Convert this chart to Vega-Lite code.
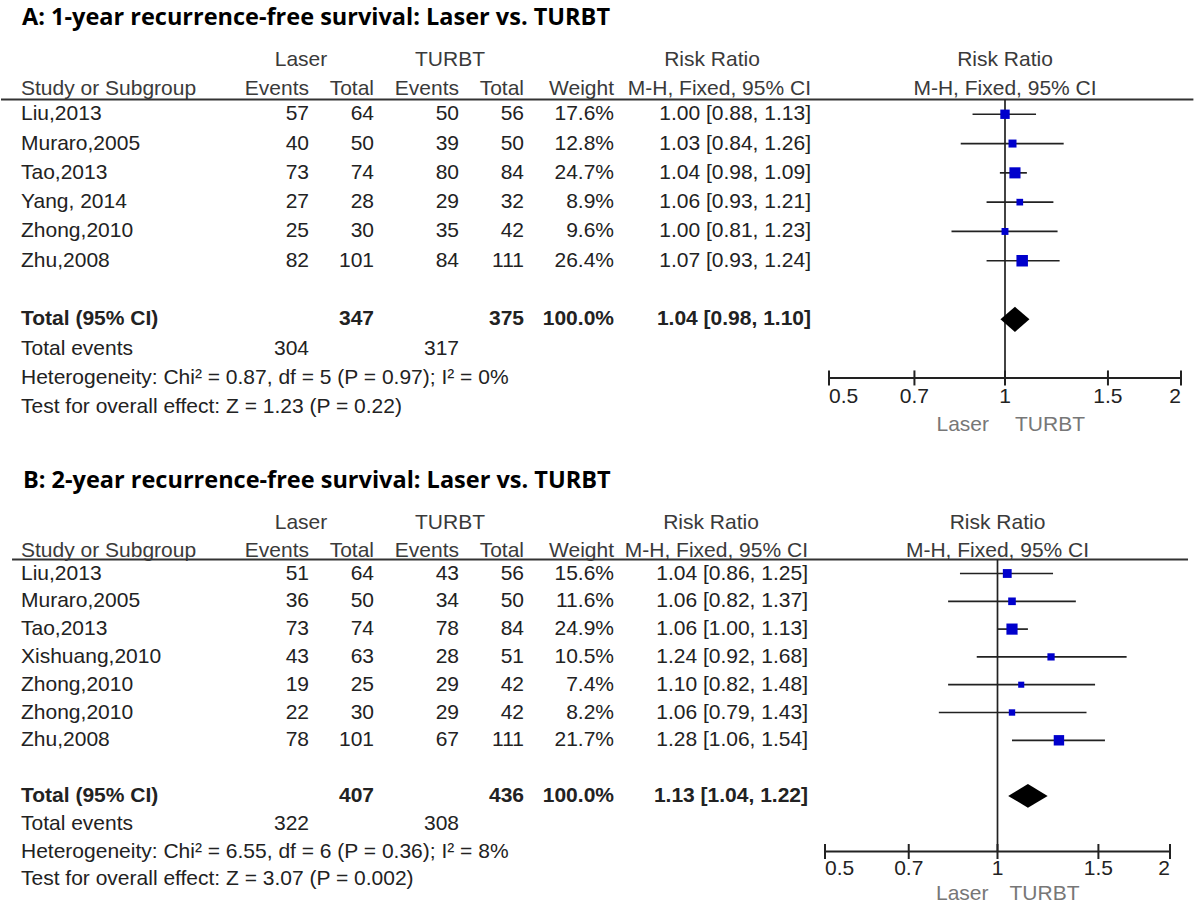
{
  "$schema": "https://vega.github.io/schema/vega-lite/v6.json",
  "padding": {"top": 5, "left": 0, "right": 0, "bottom": 0},
  "spacing": 32,
  "config": {
    "view": {"stroke": null},
    "text": {"font": "Liberation Sans", "fontSize": 21, "color": "#222"},
    "title": {"anchor": "start", "font": "Open Sans", "fontSize": 23.5, "fontWeight": "bold", "color": "#000", "dx": 22, "offset": 12}
  },
  "datasets": {
    "one": [{}],
    "A": [
      {"line": "s1", "study": "Liu,2013", "le": 57, "lt": 64, "te": 50, "tt": 56, "w": 0.176, "ci": "1.00 [0.88, 1.13]", "rr": 1.00, "lo": 0.88, "hi": 1.13},
      {"line": "s2", "study": "Muraro,2005", "le": 40, "lt": 50, "te": 39, "tt": 50, "w": 0.128, "ci": "1.03 [0.84, 1.26]", "rr": 1.03, "lo": 0.84, "hi": 1.26},
      {"line": "s3", "study": "Tao,2013", "le": 73, "lt": 74, "te": 80, "tt": 84, "w": 0.247, "ci": "1.04 [0.98, 1.09]", "rr": 1.04, "lo": 0.98, "hi": 1.09},
      {"line": "s4", "study": "Yang, 2014", "le": 27, "lt": 28, "te": 29, "tt": 32, "w": 0.089, "ci": "1.06 [0.93, 1.21]", "rr": 1.06, "lo": 0.93, "hi": 1.21},
      {"line": "s5", "study": "Zhong,2010", "le": 25, "lt": 30, "te": 35, "tt": 42, "w": 0.096, "ci": "1.00 [0.81, 1.23]", "rr": 1.00, "lo": 0.81, "hi": 1.23},
      {"line": "s6", "study": "Zhu,2008", "le": 82, "lt": 101, "te": 84, "tt": 111, "w": 0.264, "ci": "1.07 [0.93, 1.24]", "rr": 1.07, "lo": 0.93, "hi": 1.24},
      {"line": "events", "study": "Total events", "le": 304, "te": 317},
      {"line": "het", "study": "Heterogeneity: Chi² = 0.87, df = 5 (P = 0.97); I² = 0%"},
      {"line": "test", "study": "Test for overall effect: Z = 1.23 (P = 0.22)"}
    ],
    "At": [
      {"line": "total", "study": "Total (95% CI)", "lt": 347, "tt": 375, "w": 1, "ci": "1.04 [0.98, 1.10]", "rr": 1.04, "lo": 0.98, "hi": 1.10}
    ],
    "B": [
      {"line": "s1", "study": "Liu,2013", "le": 51, "lt": 64, "te": 43, "tt": 56, "w": 0.156, "ci": "1.04 [0.86, 1.25]", "rr": 1.04, "lo": 0.86, "hi": 1.25},
      {"line": "s2", "study": "Muraro,2005", "le": 36, "lt": 50, "te": 34, "tt": 50, "w": 0.116, "ci": "1.06 [0.82, 1.37]", "rr": 1.06, "lo": 0.82, "hi": 1.37},
      {"line": "s3", "study": "Tao,2013", "le": 73, "lt": 74, "te": 78, "tt": 84, "w": 0.249, "ci": "1.06 [1.00, 1.13]", "rr": 1.06, "lo": 1.00, "hi": 1.13},
      {"line": "s4", "study": "Xishuang,2010", "le": 43, "lt": 63, "te": 28, "tt": 51, "w": 0.105, "ci": "1.24 [0.92, 1.68]", "rr": 1.24, "lo": 0.92, "hi": 1.68},
      {"line": "s5", "study": "Zhong,2010", "le": 19, "lt": 25, "te": 29, "tt": 42, "w": 0.074, "ci": "1.10 [0.82, 1.48]", "rr": 1.10, "lo": 0.82, "hi": 1.48},
      {"line": "s6", "study": "Zhong,2010", "le": 22, "lt": 30, "te": 29, "tt": 42, "w": 0.082, "ci": "1.06 [0.79, 1.43]", "rr": 1.06, "lo": 0.79, "hi": 1.43},
      {"line": "s7", "study": "Zhu,2008", "le": 78, "lt": 101, "te": 67, "tt": 111, "w": 0.217, "ci": "1.28 [1.06, 1.54]", "rr": 1.28, "lo": 1.06, "hi": 1.54},
      {"line": "events", "study": "Total events", "le": 322, "te": 308},
      {"line": "het", "study": "Heterogeneity: Chi² = 6.55, df = 6 (P = 0.36); I² = 8%"},
      {"line": "test", "study": "Test for overall effect: Z = 3.07 (P = 0.002)"}
    ],
    "Bt": [
      {"line": "total", "study": "Total (95% CI)", "lt": 407, "tt": 436, "w": 1, "ci": "1.13 [1.04, 1.22]", "rr": 1.13, "lo": 1.04, "hi": 1.22}
    ],
    "ticks": [{"t": 0.5}, {"t": 0.7}, {"t": 1}, {"t": 1.5}, {"t": 2}]
  },
  "vconcat": [
    {
      "title": {"text": "A: 1-year recurrence-free survival: Laser vs. TURBT"},
      "spacing": 0,
      "bounds": "flush",
      "hconcat": [
        {"width": 240, "height": {"step": 29.3}, "layer": [
          {"data": {"name": "one"}, "mark": {"type": "text", "text": "Study or Subgroup", "align": "left", "dx": 20, "dy": 4, "color": "#3a3a3a"},
           "encoding": {"x": {"datum": 0, "type": "quantitative", "scale": {"domain": [0, 1]}, "axis": null},
                        "y": {"datum": "h2", "type": "nominal", "scale": {"type": "band", "domain": ["h1","h2","s1","s2","s3","s4","s5","s6","gap","total","events","het","test"], "paddingInner": 0, "paddingOuter": 0}, "axis": null}}},
          {"data": {"name": "A"}, "mark": {"type": "text", "align": "left", "dx": 20},
           "encoding": {"x": {"datum": 0, "type": "quantitative", "scale": {"domain": [0, 1]}, "axis": null},
                        "y": {"field": "line", "type": "nominal", "scale": {"type": "band", "domain": ["h1","h2","s1","s2","s3","s4","s5","s6","gap","total","events","het","test"], "paddingInner": 0, "paddingOuter": 0}, "axis": null},
                        "text": {"field": "study", "type": "nominal"}}},
          {"data": {"name": "At"}, "mark": {"type": "text", "align": "left", "dx": 20, "fontWeight": "bold"},
           "encoding": {"x": {"datum": 0, "type": "quantitative", "scale": {"domain": [0, 1]}, "axis": null},
                        "y": {"field": "line", "type": "nominal", "scale": {"type": "band", "domain": ["h1","h2","s1","s2","s3","s4","s5","s6","gap","total","events","het","test"], "paddingInner": 0, "paddingOuter": 0}, "axis": null},
                        "text": {"field": "study", "type": "nominal"}}},
          {"data": {"name": "one"}, "mark": {"type": "rule", "color": "#333", "strokeWidth": 2},
           "encoding": {"x": {"datum": 0, "type": "quantitative", "scale": {"domain": [0, 1]}, "axis": null}, "x2": {"datum": 1},
                        "y": {"datum": "s1", "type": "nominal", "bandPosition": 0, "scale": {"type": "band", "domain": ["h1","h2","s1","s2","s3","s4","s5","s6","gap","total","events","het","test"], "paddingInner": 0, "paddingOuter": 0}, "axis": null}}}
        ]},
        {"width": 68, "height": {"step": 29.3}, "layer": [
          {"data": {"name": "one"}, "mark": {"type": "text", "text": "Laser", "dx": -8, "dy": 4, "color": "#3a3a3a"},
           "encoding": {"x": {"datum": 1, "type": "quantitative", "scale": {"domain": [0, 1]}, "axis": null},
                        "y": {"datum": "h1", "type": "nominal", "scale": {"type": "band", "domain": ["h1","h2","s1","s2","s3","s4","s5","s6","gap","total","events","het","test"], "paddingInner": 0, "paddingOuter": 0}, "axis": null}}},
          {"data": {"name": "one"}, "mark": {"type": "text", "text": "Events", "align": "right", "dy": 4, "color": "#3a3a3a"},
           "encoding": {"x": {"datum": 1, "type": "quantitative", "scale": {"domain": [0, 1]}, "axis": null},
                        "y": {"datum": "h2", "type": "nominal", "scale": {"type": "band", "domain": ["h1","h2","s1","s2","s3","s4","s5","s6","gap","total","events","het","test"], "paddingInner": 0, "paddingOuter": 0}, "axis": null}}},
          {"data": {"name": "A"}, "transform": [{"filter": "isValid(datum.le)"}], "mark": {"type": "text", "align": "right"},
           "encoding": {"x": {"datum": 1, "type": "quantitative", "scale": {"domain": [0, 1]}, "axis": null},
                        "y": {"field": "line", "type": "nominal", "scale": {"type": "band", "domain": ["h1","h2","s1","s2","s3","s4","s5","s6","gap","total","events","het","test"], "paddingInner": 0, "paddingOuter": 0}, "axis": null},
                        "text": {"field": "le", "type": "quantitative"}}},
          {"data": {"name": "one"}, "mark": {"type": "rule", "color": "#333", "strokeWidth": 2},
           "encoding": {"x": {"datum": 0, "type": "quantitative", "scale": {"domain": [0, 1]}, "axis": null}, "x2": {"datum": 1},
                        "y": {"datum": "s1", "type": "nominal", "bandPosition": 0, "scale": {"type": "band", "domain": ["h1","h2","s1","s2","s3","s4","s5","s6","gap","total","events","het","test"], "paddingInner": 0, "paddingOuter": 0}, "axis": null}}}
        ]},
        {"width": 65, "height": {"step": 29.3}, "layer": [
          {"data": {"name": "one"}, "mark": {"type": "text", "text": "Total", "align": "right", "dy": 4, "color": "#3a3a3a"},
           "encoding": {"x": {"datum": 1, "type": "quantitative", "scale": {"domain": [0, 1]}, "axis": null},
                        "y": {"datum": "h2", "type": "nominal", "scale": {"type": "band", "domain": ["h1","h2","s1","s2","s3","s4","s5","s6","gap","total","events","het","test"], "paddingInner": 0, "paddingOuter": 0}, "axis": null}}},
          {"data": {"name": "A"}, "transform": [{"filter": "isValid(datum.lt)"}], "mark": {"type": "text", "align": "right"},
           "encoding": {"x": {"datum": 1, "type": "quantitative", "scale": {"domain": [0, 1]}, "axis": null},
                        "y": {"field": "line", "type": "nominal", "scale": {"type": "band", "domain": ["h1","h2","s1","s2","s3","s4","s5","s6","gap","total","events","het","test"], "paddingInner": 0, "paddingOuter": 0}, "axis": null},
                        "text": {"field": "lt", "type": "quantitative"}}},
          {"data": {"name": "At"}, "mark": {"type": "text", "align": "right", "fontWeight": "bold"},
           "encoding": {"x": {"datum": 1, "type": "quantitative", "scale": {"domain": [0, 1]}, "axis": null},
                        "y": {"field": "line", "type": "nominal", "scale": {"type": "band", "domain": ["h1","h2","s1","s2","s3","s4","s5","s6","gap","total","events","het","test"], "paddingInner": 0, "paddingOuter": 0}, "axis": null},
                        "text": {"field": "lt", "type": "quantitative"}}},
          {"data": {"name": "one"}, "mark": {"type": "rule", "color": "#333", "strokeWidth": 2},
           "encoding": {"x": {"datum": 0, "type": "quantitative", "scale": {"domain": [0, 1]}, "axis": null}, "x2": {"datum": 1},
                        "y": {"datum": "s1", "type": "nominal", "bandPosition": 0, "scale": {"type": "band", "domain": ["h1","h2","s1","s2","s3","s4","s5","s6","gap","total","events","het","test"], "paddingInner": 0, "paddingOuter": 0}, "axis": null}}}
        ]},
        {"width": 85, "height": {"step": 29.3}, "layer": [
          {"data": {"name": "one"}, "mark": {"type": "text", "text": "TURBT", "dx": -9, "dy": 4, "color": "#3a3a3a"},
           "encoding": {"x": {"datum": 1, "type": "quantitative", "scale": {"domain": [0, 1]}, "axis": null},
                        "y": {"datum": "h1", "type": "nominal", "scale": {"type": "band", "domain": ["h1","h2","s1","s2","s3","s4","s5","s6","gap","total","events","het","test"], "paddingInner": 0, "paddingOuter": 0}, "axis": null}}},
          {"data": {"name": "one"}, "mark": {"type": "text", "text": "Events", "align": "right", "dy": 4, "color": "#3a3a3a"},
           "encoding": {"x": {"datum": 1, "type": "quantitative", "scale": {"domain": [0, 1]}, "axis": null},
                        "y": {"datum": "h2", "type": "nominal", "scale": {"type": "band", "domain": ["h1","h2","s1","s2","s3","s4","s5","s6","gap","total","events","het","test"], "paddingInner": 0, "paddingOuter": 0}, "axis": null}}},
          {"data": {"name": "A"}, "transform": [{"filter": "isValid(datum.te)"}], "mark": {"type": "text", "align": "right"},
           "encoding": {"x": {"datum": 1, "type": "quantitative", "scale": {"domain": [0, 1]}, "axis": null},
                        "y": {"field": "line", "type": "nominal", "scale": {"type": "band", "domain": ["h1","h2","s1","s2","s3","s4","s5","s6","gap","total","events","het","test"], "paddingInner": 0, "paddingOuter": 0}, "axis": null},
                        "text": {"field": "te", "type": "quantitative"}}},
          {"data": {"name": "one"}, "mark": {"type": "rule", "color": "#333", "strokeWidth": 2},
           "encoding": {"x": {"datum": 0, "type": "quantitative", "scale": {"domain": [0, 1]}, "axis": null}, "x2": {"datum": 1},
                        "y": {"datum": "s1", "type": "nominal", "bandPosition": 0, "scale": {"type": "band", "domain": ["h1","h2","s1","s2","s3","s4","s5","s6","gap","total","events","het","test"], "paddingInner": 0, "paddingOuter": 0}, "axis": null}}}
        ]},
        {"width": 65, "height": {"step": 29.3}, "layer": [
          {"data": {"name": "one"}, "mark": {"type": "text", "text": "Total", "align": "right", "dy": 4, "color": "#3a3a3a"},
           "encoding": {"x": {"datum": 1, "type": "quantitative", "scale": {"domain": [0, 1]}, "axis": null},
                        "y": {"datum": "h2", "type": "nominal", "scale": {"type": "band", "domain": ["h1","h2","s1","s2","s3","s4","s5","s6","gap","total","events","het","test"], "paddingInner": 0, "paddingOuter": 0}, "axis": null}}},
          {"data": {"name": "A"}, "transform": [{"filter": "isValid(datum.tt)"}], "mark": {"type": "text", "align": "right"},
           "encoding": {"x": {"datum": 1, "type": "quantitative", "scale": {"domain": [0, 1]}, "axis": null},
                        "y": {"field": "line", "type": "nominal", "scale": {"type": "band", "domain": ["h1","h2","s1","s2","s3","s4","s5","s6","gap","total","events","het","test"], "paddingInner": 0, "paddingOuter": 0}, "axis": null},
                        "text": {"field": "tt", "type": "quantitative"}}},
          {"data": {"name": "At"}, "mark": {"type": "text", "align": "right", "fontWeight": "bold"},
           "encoding": {"x": {"datum": 1, "type": "quantitative", "scale": {"domain": [0, 1]}, "axis": null},
                        "y": {"field": "line", "type": "nominal", "scale": {"type": "band", "domain": ["h1","h2","s1","s2","s3","s4","s5","s6","gap","total","events","het","test"], "paddingInner": 0, "paddingOuter": 0}, "axis": null},
                        "text": {"field": "tt", "type": "quantitative"}}},
          {"data": {"name": "one"}, "mark": {"type": "rule", "color": "#333", "strokeWidth": 2},
           "encoding": {"x": {"datum": 0, "type": "quantitative", "scale": {"domain": [0, 1]}, "axis": null}, "x2": {"datum": 1},
                        "y": {"datum": "s1", "type": "nominal", "bandPosition": 0, "scale": {"type": "band", "domain": ["h1","h2","s1","s2","s3","s4","s5","s6","gap","total","events","het","test"], "paddingInner": 0, "paddingOuter": 0}, "axis": null}}}
        ]},
        {"width": 90, "height": {"step": 29.3}, "layer": [
          {"data": {"name": "one"}, "mark": {"type": "text", "text": "Weight", "align": "right", "dy": 4, "color": "#3a3a3a"},
           "encoding": {"x": {"datum": 1, "type": "quantitative", "scale": {"domain": [0, 1]}, "axis": null},
                        "y": {"datum": "h2", "type": "nominal", "scale": {"type": "band", "domain": ["h1","h2","s1","s2","s3","s4","s5","s6","gap","total","events","het","test"], "paddingInner": 0, "paddingOuter": 0}, "axis": null}}},
          {"data": {"name": "A"}, "transform": [{"filter": "isValid(datum.w)"}], "mark": {"type": "text", "align": "right"},
           "encoding": {"x": {"datum": 1, "type": "quantitative", "scale": {"domain": [0, 1]}, "axis": null},
                        "y": {"field": "line", "type": "nominal", "scale": {"type": "band", "domain": ["h1","h2","s1","s2","s3","s4","s5","s6","gap","total","events","het","test"], "paddingInner": 0, "paddingOuter": 0}, "axis": null},
                        "text": {"field": "w", "type": "quantitative", "format": ".1%"}}},
          {"data": {"name": "At"}, "mark": {"type": "text", "align": "right", "fontWeight": "bold"},
           "encoding": {"x": {"datum": 1, "type": "quantitative", "scale": {"domain": [0, 1]}, "axis": null},
                        "y": {"field": "line", "type": "nominal", "scale": {"type": "band", "domain": ["h1","h2","s1","s2","s3","s4","s5","s6","gap","total","events","het","test"], "paddingInner": 0, "paddingOuter": 0}, "axis": null},
                        "text": {"field": "w", "type": "quantitative", "format": ".1%"}}},
          {"data": {"name": "one"}, "mark": {"type": "rule", "color": "#333", "strokeWidth": 2},
           "encoding": {"x": {"datum": 0, "type": "quantitative", "scale": {"domain": [0, 1]}, "axis": null}, "x2": {"datum": 1},
                        "y": {"datum": "s1", "type": "nominal", "bandPosition": 0, "scale": {"type": "band", "domain": ["h1","h2","s1","s2","s3","s4","s5","s6","gap","total","events","het","test"], "paddingInner": 0, "paddingOuter": 0}, "axis": null}}}
        ]},
        {"width": 215, "height": {"step": 29.3}, "layer": [
          {"data": {"name": "one"}, "mark": {"type": "text", "text": "Risk Ratio", "dx": -117, "dy": 4, "color": "#3a3a3a"},
           "encoding": {"x": {"datum": 1, "type": "quantitative", "scale": {"domain": [0, 1]}, "axis": null},
                        "y": {"datum": "h1", "type": "nominal", "scale": {"type": "band", "domain": ["h1","h2","s1","s2","s3","s4","s5","s6","gap","total","events","het","test"], "paddingInner": 0, "paddingOuter": 0}, "axis": null}}},
          {"data": {"name": "one"}, "mark": {"type": "text", "text": "M-H, Fixed, 95% CI", "align": "right", "dx": -18, "dy": 4, "color": "#3a3a3a"},
           "encoding": {"x": {"datum": 1, "type": "quantitative", "scale": {"domain": [0, 1]}, "axis": null},
                        "y": {"datum": "h2", "type": "nominal", "scale": {"type": "band", "domain": ["h1","h2","s1","s2","s3","s4","s5","s6","gap","total","events","het","test"], "paddingInner": 0, "paddingOuter": 0}, "axis": null}}},
          {"data": {"name": "A"}, "transform": [{"filter": "isValid(datum.ci)"}], "mark": {"type": "text", "align": "right", "dx": -18},
           "encoding": {"x": {"datum": 1, "type": "quantitative", "scale": {"domain": [0, 1]}, "axis": null},
                        "y": {"field": "line", "type": "nominal", "scale": {"type": "band", "domain": ["h1","h2","s1","s2","s3","s4","s5","s6","gap","total","events","het","test"], "paddingInner": 0, "paddingOuter": 0}, "axis": null},
                        "text": {"field": "ci", "type": "nominal"}}},
          {"data": {"name": "At"}, "mark": {"type": "text", "align": "right", "dx": -18, "fontWeight": "bold"},
           "encoding": {"x": {"datum": 1, "type": "quantitative", "scale": {"domain": [0, 1]}, "axis": null},
                        "y": {"field": "line", "type": "nominal", "scale": {"type": "band", "domain": ["h1","h2","s1","s2","s3","s4","s5","s6","gap","total","events","het","test"], "paddingInner": 0, "paddingOuter": 0}, "axis": null},
                        "text": {"field": "ci", "type": "nominal"}}},
          {"data": {"name": "one"}, "mark": {"type": "rule", "color": "#333", "strokeWidth": 2},
           "encoding": {"x": {"datum": 0, "type": "quantitative", "scale": {"domain": [0, 1]}, "axis": null}, "x2": {"datum": 1},
                        "y": {"datum": "s1", "type": "nominal", "bandPosition": 0, "scale": {"type": "band", "domain": ["h1","h2","s1","s2","s3","s4","s5","s6","gap","total","events","het","test"], "paddingInner": 0, "paddingOuter": 0}, "axis": null}}}
        ]},
        {"width": 352, "height": {"step": 29.3}, "layer": [
          {"data": {"name": "one"}, "mark": {"type": "text", "text": "Risk Ratio", "dy": 4, "color": "#3a3a3a"},
           "encoding": {"x": {"datum": 1, "type": "quantitative", "scale": {"type": "log", "domain": [0.5, 2], "nice": false}, "axis": null},
                        "y": {"datum": "h1", "type": "nominal", "scale": {"type": "band", "domain": ["h1","h2","s1","s2","s3","s4","s5","s6","gap","total","events","het","test"], "paddingInner": 0, "paddingOuter": 0}, "axis": null}}},
          {"data": {"name": "one"}, "mark": {"type": "text", "text": "M-H, Fixed, 95% CI", "dy": 4, "color": "#3a3a3a"},
           "encoding": {"x": {"datum": 1, "type": "quantitative", "scale": {"type": "log", "domain": [0.5, 2], "nice": false}, "axis": null},
                        "y": {"datum": "h2", "type": "nominal", "scale": {"type": "band", "domain": ["h1","h2","s1","s2","s3","s4","s5","s6","gap","total","events","het","test"], "paddingInner": 0, "paddingOuter": 0}, "axis": null}}},
          {"data": {"name": "one"}, "mark": {"type": "rule", "color": "#333", "strokeWidth": 2},
           "encoding": {"x": {"datum": 0.5, "type": "quantitative", "scale": {"type": "log", "domain": [0.5, 2], "nice": false}, "axis": null}, "x2": {"datum": 2.1},
                        "y": {"datum": "s1", "type": "nominal", "bandPosition": 0, "scale": {"type": "band", "domain": ["h1","h2","s1","s2","s3","s4","s5","s6","gap","total","events","het","test"], "paddingInner": 0, "paddingOuter": 0}, "axis": null}}},
          {"data": {"name": "one"}, "mark": {"type": "rule", "color": "#222", "strokeWidth": 1.7},
           "encoding": {"x": {"datum": 1, "type": "quantitative", "scale": {"type": "log", "domain": [0.5, 2], "nice": false}, "axis": null},
                        "y": {"datum": "s1", "type": "nominal", "bandPosition": 0, "scale": {"type": "band", "domain": ["h1","h2","s1","s2","s3","s4","s5","s6","gap","total","events","het","test"], "paddingInner": 0, "paddingOuter": 0}, "axis": null},
                        "y2": {"datum": "het"}}},
          {"data": {"name": "A"}, "transform": [{"filter": "isValid(datum.lo)"}], "mark": {"type": "rule", "color": "#222", "strokeWidth": 1.7},
           "encoding": {"x": {"field": "lo", "type": "quantitative", "scale": {"type": "log", "domain": [0.5, 2], "nice": false}, "axis": null}, "x2": {"field": "hi"},
                        "y": {"field": "line", "type": "nominal", "scale": {"type": "band", "domain": ["h1","h2","s1","s2","s3","s4","s5","s6","gap","total","events","het","test"], "paddingInner": 0, "paddingOuter": 0}, "axis": null}}},
          {"data": {"name": "A"}, "transform": [{"filter": "isValid(datum.rr)"}], "mark": {"type": "point", "shape": "square", "filled": true, "color": "#0000cc", "opacity": 1},
           "encoding": {"x": {"field": "rr", "type": "quantitative", "scale": {"type": "log", "domain": [0.5, 2], "nice": false}, "axis": null},
                        "y": {"field": "line", "type": "nominal", "scale": {"type": "band", "domain": ["h1","h2","s1","s2","s3","s4","s5","s6","gap","total","events","het","test"], "paddingInner": 0, "paddingOuter": 0}, "axis": null},
                        "size": {"field": "w", "type": "quantitative", "scale": {"domain": [0, 0.3], "range": [0, 150]}, "legend": null}}},
          {"data": {"name": "At"}, "mark": {"type": "point", "shape": "M-1,0L0,-0.87L1,0L0,0.87Z", "size": 841, "filled": true, "color": "#000", "opacity": 1},
           "encoding": {"x": {"field": "rr", "type": "quantitative", "scale": {"type": "log", "domain": [0.5, 2], "nice": false}, "axis": null},
                        "y": {"field": "line", "type": "nominal", "scale": {"type": "band", "domain": ["h1","h2","s1","s2","s3","s4","s5","s6","gap","total","events","het","test"], "paddingInner": 0, "paddingOuter": 0}, "axis": null}}},
          {"data": {"name": "one"}, "mark": {"type": "rule", "color": "#222", "strokeWidth": 2},
           "encoding": {"x": {"datum": 0.5, "type": "quantitative", "scale": {"type": "log", "domain": [0.5, 2], "nice": false}, "axis": null}, "x2": {"datum": 2},
                        "y": {"datum": "het", "type": "nominal", "scale": {"type": "band", "domain": ["h1","h2","s1","s2","s3","s4","s5","s6","gap","total","events","het","test"], "paddingInner": 0, "paddingOuter": 0}, "axis": null}}},
          {"data": {"name": "ticks"}, "mark": {"type": "tick", "color": "#222", "thickness": 2, "size": 15, "opacity": 1},
           "encoding": {"x": {"field": "t", "type": "quantitative", "scale": {"type": "log", "domain": [0.5, 2], "nice": false}, "axis": null},
                        "y": {"datum": "het", "type": "nominal", "scale": {"type": "band", "domain": ["h1","h2","s1","s2","s3","s4","s5","s6","gap","total","events","het","test"], "paddingInner": 0, "paddingOuter": 0}, "axis": null}}},
          {"data": {"name": "ticks"}, "transform": [{"filter": "datum.t == 0.5"}], "mark": {"type": "text", "align": "left", "dy": -10},
           "encoding": {"x": {"field": "t", "type": "quantitative", "scale": {"type": "log", "domain": [0.5, 2], "nice": false}, "axis": null},
                        "y": {"datum": "test", "type": "nominal", "scale": {"type": "band", "domain": ["h1","h2","s1","s2","s3","s4","s5","s6","gap","total","events","het","test"], "paddingInner": 0, "paddingOuter": 0}, "axis": null},
                        "text": {"field": "t", "type": "quantitative"}}},
          {"data": {"name": "ticks"}, "transform": [{"filter": "datum.t > 0.5 && datum.t < 2"}], "mark": {"type": "text", "align": "center", "dy": -10},
           "encoding": {"x": {"field": "t", "type": "quantitative", "scale": {"type": "log", "domain": [0.5, 2], "nice": false}, "axis": null},
                        "y": {"datum": "test", "type": "nominal", "scale": {"type": "band", "domain": ["h1","h2","s1","s2","s3","s4","s5","s6","gap","total","events","het","test"], "paddingInner": 0, "paddingOuter": 0}, "axis": null},
                        "text": {"field": "t", "type": "quantitative"}}},
          {"data": {"name": "ticks"}, "transform": [{"filter": "datum.t == 2"}], "mark": {"type": "text", "align": "right", "dy": -10},
           "encoding": {"x": {"field": "t", "type": "quantitative", "scale": {"type": "log", "domain": [0.5, 2], "nice": false}, "axis": null},
                        "y": {"datum": "test", "type": "nominal", "scale": {"type": "band", "domain": ["h1","h2","s1","s2","s3","s4","s5","s6","gap","total","events","het","test"], "paddingInner": 0, "paddingOuter": 0}, "axis": null},
                        "text": {"field": "t", "type": "quantitative"}}},
          {"data": {"name": "one"}, "mark": {"type": "text", "text": "Laser", "align": "right", "dx": -16, "dy": 18, "color": "#777"},
           "encoding": {"x": {"datum": 1, "type": "quantitative", "scale": {"type": "log", "domain": [0.5, 2], "nice": false}, "axis": null},
                        "y": {"datum": "test", "type": "nominal", "scale": {"type": "band", "domain": ["h1","h2","s1","s2","s3","s4","s5","s6","gap","total","events","het","test"], "paddingInner": 0, "paddingOuter": 0}, "axis": null}}},
          {"data": {"name": "one"}, "mark": {"type": "text", "text": "TURBT", "align": "left", "dx": 10, "dy": 18, "color": "#777"},
           "encoding": {"x": {"datum": 1, "type": "quantitative", "scale": {"type": "log", "domain": [0.5, 2], "nice": false}, "axis": null},
                        "y": {"datum": "test", "type": "nominal", "scale": {"type": "band", "domain": ["h1","h2","s1","s2","s3","s4","s5","s6","gap","total","events","het","test"], "paddingInner": 0, "paddingOuter": 0}, "axis": null}}}
        ]}
      ]
    },
    {
      "title": {"text": "B: 2-year recurrence-free survival: Laser vs. TURBT"},
      "spacing": 0,
      "bounds": "flush",
      "hconcat": [
        {"width": 240, "height": {"step": 27.8}, "layer": [
          {"data": {"name": "one"}, "mark": {"type": "text", "text": "Study or Subgroup", "align": "left", "dx": 20, "dy": 5, "color": "#3a3a3a"},
           "encoding": {"x": {"datum": 0, "type": "quantitative", "scale": {"domain": [0, 1]}, "axis": null},
                        "y": {"datum": "h2", "type": "nominal", "scale": {"type": "band", "domain": ["h1","h2","s1","s2","s3","s4","s5","s6","s7","gap","total","events","het","test"], "paddingInner": 0, "paddingOuter": 0}, "axis": null}}},
          {"data": {"name": "B"}, "mark": {"type": "text", "align": "left", "dx": 20},
           "encoding": {"x": {"datum": 0, "type": "quantitative", "scale": {"domain": [0, 1]}, "axis": null},
                        "y": {"field": "line", "type": "nominal", "scale": {"type": "band", "domain": ["h1","h2","s1","s2","s3","s4","s5","s6","s7","gap","total","events","het","test"], "paddingInner": 0, "paddingOuter": 0}, "axis": null},
                        "text": {"field": "study", "type": "nominal"}}},
          {"data": {"name": "Bt"}, "mark": {"type": "text", "align": "left", "dx": 20, "fontWeight": "bold"},
           "encoding": {"x": {"datum": 0, "type": "quantitative", "scale": {"domain": [0, 1]}, "axis": null},
                        "y": {"field": "line", "type": "nominal", "scale": {"type": "band", "domain": ["h1","h2","s1","s2","s3","s4","s5","s6","s7","gap","total","events","het","test"], "paddingInner": 0, "paddingOuter": 0}, "axis": null},
                        "text": {"field": "study", "type": "nominal"}}},
          {"data": {"name": "one"}, "mark": {"type": "rule", "color": "#333", "strokeWidth": 2},
           "encoding": {"x": {"datum": 0.046, "type": "quantitative", "scale": {"domain": [0, 1]}, "axis": null}, "x2": {"datum": 1},
                        "y": {"datum": "s1", "type": "nominal", "bandPosition": 0, "scale": {"type": "band", "domain": ["h1","h2","s1","s2","s3","s4","s5","s6","s7","gap","total","events","het","test"], "paddingInner": 0, "paddingOuter": 0}, "axis": null}}}
        ]},
        {"width": 68, "height": {"step": 27.8}, "layer": [
          {"data": {"name": "one"}, "mark": {"type": "text", "text": "Laser", "dx": -8, "dy": 5, "color": "#3a3a3a"},
           "encoding": {"x": {"datum": 1, "type": "quantitative", "scale": {"domain": [0, 1]}, "axis": null},
                        "y": {"datum": "h1", "type": "nominal", "scale": {"type": "band", "domain": ["h1","h2","s1","s2","s3","s4","s5","s6","s7","gap","total","events","het","test"], "paddingInner": 0, "paddingOuter": 0}, "axis": null}}},
          {"data": {"name": "one"}, "mark": {"type": "text", "text": "Events", "align": "right", "dy": 5, "color": "#3a3a3a"},
           "encoding": {"x": {"datum": 1, "type": "quantitative", "scale": {"domain": [0, 1]}, "axis": null},
                        "y": {"datum": "h2", "type": "nominal", "scale": {"type": "band", "domain": ["h1","h2","s1","s2","s3","s4","s5","s6","s7","gap","total","events","het","test"], "paddingInner": 0, "paddingOuter": 0}, "axis": null}}},
          {"data": {"name": "B"}, "transform": [{"filter": "isValid(datum.le)"}], "mark": {"type": "text", "align": "right"},
           "encoding": {"x": {"datum": 1, "type": "quantitative", "scale": {"domain": [0, 1]}, "axis": null},
                        "y": {"field": "line", "type": "nominal", "scale": {"type": "band", "domain": ["h1","h2","s1","s2","s3","s4","s5","s6","s7","gap","total","events","het","test"], "paddingInner": 0, "paddingOuter": 0}, "axis": null},
                        "text": {"field": "le", "type": "quantitative"}}},
          {"data": {"name": "one"}, "mark": {"type": "rule", "color": "#333", "strokeWidth": 2},
           "encoding": {"x": {"datum": 0, "type": "quantitative", "scale": {"domain": [0, 1]}, "axis": null}, "x2": {"datum": 1},
                        "y": {"datum": "s1", "type": "nominal", "bandPosition": 0, "scale": {"type": "band", "domain": ["h1","h2","s1","s2","s3","s4","s5","s6","s7","gap","total","events","het","test"], "paddingInner": 0, "paddingOuter": 0}, "axis": null}}}
        ]},
        {"width": 65, "height": {"step": 27.8}, "layer": [
          {"data": {"name": "one"}, "mark": {"type": "text", "text": "Total", "align": "right", "dy": 5, "color": "#3a3a3a"},
           "encoding": {"x": {"datum": 1, "type": "quantitative", "scale": {"domain": [0, 1]}, "axis": null},
                        "y": {"datum": "h2", "type": "nominal", "scale": {"type": "band", "domain": ["h1","h2","s1","s2","s3","s4","s5","s6","s7","gap","total","events","het","test"], "paddingInner": 0, "paddingOuter": 0}, "axis": null}}},
          {"data": {"name": "B"}, "transform": [{"filter": "isValid(datum.lt)"}], "mark": {"type": "text", "align": "right"},
           "encoding": {"x": {"datum": 1, "type": "quantitative", "scale": {"domain": [0, 1]}, "axis": null},
                        "y": {"field": "line", "type": "nominal", "scale": {"type": "band", "domain": ["h1","h2","s1","s2","s3","s4","s5","s6","s7","gap","total","events","het","test"], "paddingInner": 0, "paddingOuter": 0}, "axis": null},
                        "text": {"field": "lt", "type": "quantitative"}}},
          {"data": {"name": "Bt"}, "mark": {"type": "text", "align": "right", "fontWeight": "bold"},
           "encoding": {"x": {"datum": 1, "type": "quantitative", "scale": {"domain": [0, 1]}, "axis": null},
                        "y": {"field": "line", "type": "nominal", "scale": {"type": "band", "domain": ["h1","h2","s1","s2","s3","s4","s5","s6","s7","gap","total","events","het","test"], "paddingInner": 0, "paddingOuter": 0}, "axis": null},
                        "text": {"field": "lt", "type": "quantitative"}}},
          {"data": {"name": "one"}, "mark": {"type": "rule", "color": "#333", "strokeWidth": 2},
           "encoding": {"x": {"datum": 0, "type": "quantitative", "scale": {"domain": [0, 1]}, "axis": null}, "x2": {"datum": 1},
                        "y": {"datum": "s1", "type": "nominal", "bandPosition": 0, "scale": {"type": "band", "domain": ["h1","h2","s1","s2","s3","s4","s5","s6","s7","gap","total","events","het","test"], "paddingInner": 0, "paddingOuter": 0}, "axis": null}}}
        ]},
        {"width": 85, "height": {"step": 27.8}, "layer": [
          {"data": {"name": "one"}, "mark": {"type": "text", "text": "TURBT", "dx": -9, "dy": 5, "color": "#3a3a3a"},
           "encoding": {"x": {"datum": 1, "type": "quantitative", "scale": {"domain": [0, 1]}, "axis": null},
                        "y": {"datum": "h1", "type": "nominal", "scale": {"type": "band", "domain": ["h1","h2","s1","s2","s3","s4","s5","s6","s7","gap","total","events","het","test"], "paddingInner": 0, "paddingOuter": 0}, "axis": null}}},
          {"data": {"name": "one"}, "mark": {"type": "text", "text": "Events", "align": "right", "dy": 5, "color": "#3a3a3a"},
           "encoding": {"x": {"datum": 1, "type": "quantitative", "scale": {"domain": [0, 1]}, "axis": null},
                        "y": {"datum": "h2", "type": "nominal", "scale": {"type": "band", "domain": ["h1","h2","s1","s2","s3","s4","s5","s6","s7","gap","total","events","het","test"], "paddingInner": 0, "paddingOuter": 0}, "axis": null}}},
          {"data": {"name": "B"}, "transform": [{"filter": "isValid(datum.te)"}], "mark": {"type": "text", "align": "right"},
           "encoding": {"x": {"datum": 1, "type": "quantitative", "scale": {"domain": [0, 1]}, "axis": null},
                        "y": {"field": "line", "type": "nominal", "scale": {"type": "band", "domain": ["h1","h2","s1","s2","s3","s4","s5","s6","s7","gap","total","events","het","test"], "paddingInner": 0, "paddingOuter": 0}, "axis": null},
                        "text": {"field": "te", "type": "quantitative"}}},
          {"data": {"name": "one"}, "mark": {"type": "rule", "color": "#333", "strokeWidth": 2},
           "encoding": {"x": {"datum": 0, "type": "quantitative", "scale": {"domain": [0, 1]}, "axis": null}, "x2": {"datum": 1},
                        "y": {"datum": "s1", "type": "nominal", "bandPosition": 0, "scale": {"type": "band", "domain": ["h1","h2","s1","s2","s3","s4","s5","s6","s7","gap","total","events","het","test"], "paddingInner": 0, "paddingOuter": 0}, "axis": null}}}
        ]},
        {"width": 65, "height": {"step": 27.8}, "layer": [
          {"data": {"name": "one"}, "mark": {"type": "text", "text": "Total", "align": "right", "dy": 5, "color": "#3a3a3a"},
           "encoding": {"x": {"datum": 1, "type": "quantitative", "scale": {"domain": [0, 1]}, "axis": null},
                        "y": {"datum": "h2", "type": "nominal", "scale": {"type": "band", "domain": ["h1","h2","s1","s2","s3","s4","s5","s6","s7","gap","total","events","het","test"], "paddingInner": 0, "paddingOuter": 0}, "axis": null}}},
          {"data": {"name": "B"}, "transform": [{"filter": "isValid(datum.tt)"}], "mark": {"type": "text", "align": "right"},
           "encoding": {"x": {"datum": 1, "type": "quantitative", "scale": {"domain": [0, 1]}, "axis": null},
                        "y": {"field": "line", "type": "nominal", "scale": {"type": "band", "domain": ["h1","h2","s1","s2","s3","s4","s5","s6","s7","gap","total","events","het","test"], "paddingInner": 0, "paddingOuter": 0}, "axis": null},
                        "text": {"field": "tt", "type": "quantitative"}}},
          {"data": {"name": "Bt"}, "mark": {"type": "text", "align": "right", "fontWeight": "bold"},
           "encoding": {"x": {"datum": 1, "type": "quantitative", "scale": {"domain": [0, 1]}, "axis": null},
                        "y": {"field": "line", "type": "nominal", "scale": {"type": "band", "domain": ["h1","h2","s1","s2","s3","s4","s5","s6","s7","gap","total","events","het","test"], "paddingInner": 0, "paddingOuter": 0}, "axis": null},
                        "text": {"field": "tt", "type": "quantitative"}}},
          {"data": {"name": "one"}, "mark": {"type": "rule", "color": "#333", "strokeWidth": 2},
           "encoding": {"x": {"datum": 0, "type": "quantitative", "scale": {"domain": [0, 1]}, "axis": null}, "x2": {"datum": 1},
                        "y": {"datum": "s1", "type": "nominal", "bandPosition": 0, "scale": {"type": "band", "domain": ["h1","h2","s1","s2","s3","s4","s5","s6","s7","gap","total","events","het","test"], "paddingInner": 0, "paddingOuter": 0}, "axis": null}}}
        ]},
        {"width": 90, "height": {"step": 27.8}, "layer": [
          {"data": {"name": "one"}, "mark": {"type": "text", "text": "Weight", "align": "right", "dy": 5, "color": "#3a3a3a"},
           "encoding": {"x": {"datum": 1, "type": "quantitative", "scale": {"domain": [0, 1]}, "axis": null},
                        "y": {"datum": "h2", "type": "nominal", "scale": {"type": "band", "domain": ["h1","h2","s1","s2","s3","s4","s5","s6","s7","gap","total","events","het","test"], "paddingInner": 0, "paddingOuter": 0}, "axis": null}}},
          {"data": {"name": "B"}, "transform": [{"filter": "isValid(datum.w)"}], "mark": {"type": "text", "align": "right"},
           "encoding": {"x": {"datum": 1, "type": "quantitative", "scale": {"domain": [0, 1]}, "axis": null},
                        "y": {"field": "line", "type": "nominal", "scale": {"type": "band", "domain": ["h1","h2","s1","s2","s3","s4","s5","s6","s7","gap","total","events","het","test"], "paddingInner": 0, "paddingOuter": 0}, "axis": null},
                        "text": {"field": "w", "type": "quantitative", "format": ".1%"}}},
          {"data": {"name": "Bt"}, "mark": {"type": "text", "align": "right", "fontWeight": "bold"},
           "encoding": {"x": {"datum": 1, "type": "quantitative", "scale": {"domain": [0, 1]}, "axis": null},
                        "y": {"field": "line", "type": "nominal", "scale": {"type": "band", "domain": ["h1","h2","s1","s2","s3","s4","s5","s6","s7","gap","total","events","het","test"], "paddingInner": 0, "paddingOuter": 0}, "axis": null},
                        "text": {"field": "w", "type": "quantitative", "format": ".1%"}}},
          {"data": {"name": "one"}, "mark": {"type": "rule", "color": "#333", "strokeWidth": 2},
           "encoding": {"x": {"datum": 0, "type": "quantitative", "scale": {"domain": [0, 1]}, "axis": null}, "x2": {"datum": 1},
                        "y": {"datum": "s1", "type": "nominal", "bandPosition": 0, "scale": {"type": "band", "domain": ["h1","h2","s1","s2","s3","s4","s5","s6","s7","gap","total","events","het","test"], "paddingInner": 0, "paddingOuter": 0}, "axis": null}}}
        ]},
        {"width": 211, "height": {"step": 27.8}, "layer": [
          {"data": {"name": "one"}, "mark": {"type": "text", "text": "Risk Ratio", "dx": -114, "dy": 5, "color": "#3a3a3a"},
           "encoding": {"x": {"datum": 1, "type": "quantitative", "scale": {"domain": [0, 1]}, "axis": null},
                        "y": {"datum": "h1", "type": "nominal", "scale": {"type": "band", "domain": ["h1","h2","s1","s2","s3","s4","s5","s6","s7","gap","total","events","het","test"], "paddingInner": 0, "paddingOuter": 0}, "axis": null}}},
          {"data": {"name": "one"}, "mark": {"type": "text", "text": "M-H, Fixed, 95% CI", "align": "right", "dx": -17, "dy": 5, "color": "#3a3a3a"},
           "encoding": {"x": {"datum": 1, "type": "quantitative", "scale": {"domain": [0, 1]}, "axis": null},
                        "y": {"datum": "h2", "type": "nominal", "scale": {"type": "band", "domain": ["h1","h2","s1","s2","s3","s4","s5","s6","s7","gap","total","events","het","test"], "paddingInner": 0, "paddingOuter": 0}, "axis": null}}},
          {"data": {"name": "B"}, "transform": [{"filter": "isValid(datum.ci)"}], "mark": {"type": "text", "align": "right", "dx": -17},
           "encoding": {"x": {"datum": 1, "type": "quantitative", "scale": {"domain": [0, 1]}, "axis": null},
                        "y": {"field": "line", "type": "nominal", "scale": {"type": "band", "domain": ["h1","h2","s1","s2","s3","s4","s5","s6","s7","gap","total","events","het","test"], "paddingInner": 0, "paddingOuter": 0}, "axis": null},
                        "text": {"field": "ci", "type": "nominal"}}},
          {"data": {"name": "Bt"}, "mark": {"type": "text", "align": "right", "dx": -17, "fontWeight": "bold"},
           "encoding": {"x": {"datum": 1, "type": "quantitative", "scale": {"domain": [0, 1]}, "axis": null},
                        "y": {"field": "line", "type": "nominal", "scale": {"type": "band", "domain": ["h1","h2","s1","s2","s3","s4","s5","s6","s7","gap","total","events","het","test"], "paddingInner": 0, "paddingOuter": 0}, "axis": null},
                        "text": {"field": "ci", "type": "nominal"}}},
          {"data": {"name": "one"}, "mark": {"type": "rule", "color": "#333", "strokeWidth": 2},
           "encoding": {"x": {"datum": 0, "type": "quantitative", "scale": {"domain": [0, 1]}, "axis": null}, "x2": {"datum": 1},
                        "y": {"datum": "s1", "type": "nominal", "bandPosition": 0, "scale": {"type": "band", "domain": ["h1","h2","s1","s2","s3","s4","s5","s6","s7","gap","total","events","het","test"], "paddingInner": 0, "paddingOuter": 0}, "axis": null}}}
        ]},
        {"width": 345, "height": {"step": 27.8}, "layer": [
          {"data": {"name": "one"}, "mark": {"type": "text", "text": "Risk Ratio", "dy": 5, "color": "#3a3a3a"},
           "encoding": {"x": {"datum": 1, "type": "quantitative", "scale": {"type": "log", "domain": [0.5, 2], "nice": false}, "axis": null},
                        "y": {"datum": "h1", "type": "nominal", "scale": {"type": "band", "domain": ["h1","h2","s1","s2","s3","s4","s5","s6","s7","gap","total","events","het","test"], "paddingInner": 0, "paddingOuter": 0}, "axis": null}}},
          {"data": {"name": "one"}, "mark": {"type": "text", "text": "M-H, Fixed, 95% CI", "dy": 5, "color": "#3a3a3a"},
           "encoding": {"x": {"datum": 1, "type": "quantitative", "scale": {"type": "log", "domain": [0.5, 2], "nice": false}, "axis": null},
                        "y": {"datum": "h2", "type": "nominal", "scale": {"type": "band", "domain": ["h1","h2","s1","s2","s3","s4","s5","s6","s7","gap","total","events","het","test"], "paddingInner": 0, "paddingOuter": 0}, "axis": null}}},
          {"data": {"name": "one"}, "mark": {"type": "rule", "color": "#333", "strokeWidth": 2},
           "encoding": {"x": {"datum": 0.5, "type": "quantitative", "scale": {"type": "log", "domain": [0.5, 2], "nice": false}, "axis": null}, "x2": {"datum": 2.15},
                        "y": {"datum": "s1", "type": "nominal", "bandPosition": 0, "scale": {"type": "band", "domain": ["h1","h2","s1","s2","s3","s4","s5","s6","s7","gap","total","events","het","test"], "paddingInner": 0, "paddingOuter": 0}, "axis": null}}},
          {"data": {"name": "one"}, "mark": {"type": "rule", "color": "#222", "strokeWidth": 1.7},
           "encoding": {"x": {"datum": 1, "type": "quantitative", "scale": {"type": "log", "domain": [0.5, 2], "nice": false}, "axis": null},
                        "y": {"datum": "s1", "type": "nominal", "bandPosition": 0, "scale": {"type": "band", "domain": ["h1","h2","s1","s2","s3","s4","s5","s6","s7","gap","total","events","het","test"], "paddingInner": 0, "paddingOuter": 0}, "axis": null},
                        "y2": {"datum": "het"}}},
          {"data": {"name": "B"}, "transform": [{"filter": "isValid(datum.lo)"}], "mark": {"type": "rule", "color": "#222", "strokeWidth": 1.7},
           "encoding": {"x": {"field": "lo", "type": "quantitative", "scale": {"type": "log", "domain": [0.5, 2], "nice": false}, "axis": null}, "x2": {"field": "hi"},
                        "y": {"field": "line", "type": "nominal", "scale": {"type": "band", "domain": ["h1","h2","s1","s2","s3","s4","s5","s6","s7","gap","total","events","het","test"], "paddingInner": 0, "paddingOuter": 0}, "axis": null}}},
          {"data": {"name": "B"}, "transform": [{"filter": "isValid(datum.rr)"}], "mark": {"type": "point", "shape": "square", "filled": true, "color": "#0000cc", "opacity": 1},
           "encoding": {"x": {"field": "rr", "type": "quantitative", "scale": {"type": "log", "domain": [0.5, 2], "nice": false}, "axis": null},
                        "y": {"field": "line", "type": "nominal", "scale": {"type": "band", "domain": ["h1","h2","s1","s2","s3","s4","s5","s6","s7","gap","total","events","het","test"], "paddingInner": 0, "paddingOuter": 0}, "axis": null},
                        "size": {"field": "w", "type": "quantitative", "scale": {"domain": [0, 0.3], "range": [0, 150]}, "legend": null}}},
          {"data": {"name": "Bt"}, "mark": {"type": "point", "shape": "M-1,0L0,-0.6L1,0L0,0.6Z", "size": 1560, "filled": true, "color": "#000", "opacity": 1},
           "encoding": {"x": {"field": "rr", "type": "quantitative", "scale": {"type": "log", "domain": [0.5, 2], "nice": false}, "axis": null},
                        "y": {"field": "line", "type": "nominal", "scale": {"type": "band", "domain": ["h1","h2","s1","s2","s3","s4","s5","s6","s7","gap","total","events","het","test"], "paddingInner": 0, "paddingOuter": 0}, "axis": null}}},
          {"data": {"name": "one"}, "mark": {"type": "rule", "color": "#222", "strokeWidth": 2},
           "encoding": {"x": {"datum": 0.5, "type": "quantitative", "scale": {"type": "log", "domain": [0.5, 2], "nice": false}, "axis": null}, "x2": {"datum": 2},
                        "y": {"datum": "het", "type": "nominal", "scale": {"type": "band", "domain": ["h1","h2","s1","s2","s3","s4","s5","s6","s7","gap","total","events","het","test"], "paddingInner": 0, "paddingOuter": 0}, "axis": null}}},
          {"data": {"name": "ticks"}, "mark": {"type": "tick", "color": "#222", "thickness": 2, "size": 15, "opacity": 1},
           "encoding": {"x": {"field": "t", "type": "quantitative", "scale": {"type": "log", "domain": [0.5, 2], "nice": false}, "axis": null},
                        "y": {"datum": "het", "type": "nominal", "scale": {"type": "band", "domain": ["h1","h2","s1","s2","s3","s4","s5","s6","s7","gap","total","events","het","test"], "paddingInner": 0, "paddingOuter": 0}, "axis": null}}},
          {"data": {"name": "ticks"}, "transform": [{"filter": "datum.t == 0.5"}], "mark": {"type": "text", "align": "left", "dy": -10},
           "encoding": {"x": {"field": "t", "type": "quantitative", "scale": {"type": "log", "domain": [0.5, 2], "nice": false}, "axis": null},
                        "y": {"datum": "test", "type": "nominal", "scale": {"type": "band", "domain": ["h1","h2","s1","s2","s3","s4","s5","s6","s7","gap","total","events","het","test"], "paddingInner": 0, "paddingOuter": 0}, "axis": null},
                        "text": {"field": "t", "type": "quantitative"}}},
          {"data": {"name": "ticks"}, "transform": [{"filter": "datum.t > 0.5 && datum.t < 2"}], "mark": {"type": "text", "align": "center", "dy": -10},
           "encoding": {"x": {"field": "t", "type": "quantitative", "scale": {"type": "log", "domain": [0.5, 2], "nice": false}, "axis": null},
                        "y": {"datum": "test", "type": "nominal", "scale": {"type": "band", "domain": ["h1","h2","s1","s2","s3","s4","s5","s6","s7","gap","total","events","het","test"], "paddingInner": 0, "paddingOuter": 0}, "axis": null},
                        "text": {"field": "t", "type": "quantitative"}}},
          {"data": {"name": "ticks"}, "transform": [{"filter": "datum.t == 2"}], "mark": {"type": "text", "align": "right", "dy": -10},
           "encoding": {"x": {"field": "t", "type": "quantitative", "scale": {"type": "log", "domain": [0.5, 2], "nice": false}, "axis": null},
                        "y": {"datum": "test", "type": "nominal", "scale": {"type": "band", "domain": ["h1","h2","s1","s2","s3","s4","s5","s6","s7","gap","total","events","het","test"], "paddingInner": 0, "paddingOuter": 0}, "axis": null},
                        "text": {"field": "t", "type": "quantitative"}}},
          {"data": {"name": "one"}, "mark": {"type": "text", "text": "Laser", "align": "right", "dx": -9, "dy": 15, "color": "#777"},
           "encoding": {"x": {"datum": 1, "type": "quantitative", "scale": {"type": "log", "domain": [0.5, 2], "nice": false}, "axis": null},
                        "y": {"datum": "test", "type": "nominal", "scale": {"type": "band", "domain": ["h1","h2","s1","s2","s3","s4","s5","s6","s7","gap","total","events","het","test"], "paddingInner": 0, "paddingOuter": 0}, "axis": null}}},
          {"data": {"name": "one"}, "mark": {"type": "text", "text": "TURBT", "align": "left", "dx": 12, "dy": 15, "color": "#777"},
           "encoding": {"x": {"datum": 1, "type": "quantitative", "scale": {"type": "log", "domain": [0.5, 2], "nice": false}, "axis": null},
                        "y": {"datum": "test", "type": "nominal", "scale": {"type": "band", "domain": ["h1","h2","s1","s2","s3","s4","s5","s6","s7","gap","total","events","het","test"], "paddingInner": 0, "paddingOuter": 0}, "axis": null}}}
        ]}
      ]
    }
  ]
}
